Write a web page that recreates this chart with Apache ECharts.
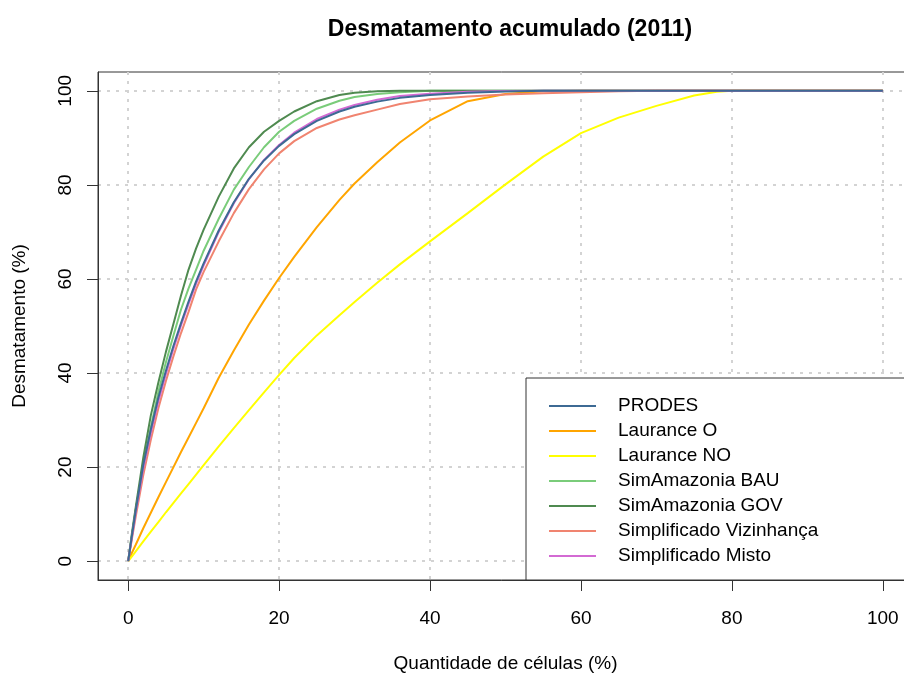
<!DOCTYPE html>
<html>
<head>
<meta charset="utf-8">
<script src="https://cdn.jsdelivr.net/npm/echarts@6/dist/echarts.min.js"></script>
<style>
html,body{margin:0;padding:0;background:#fff;}
#chart{width:904px;height:673px;}
</style>
</head>
<body>
<div id="chart"></div>
<script>
// ---- data ----
const xCells = [0, 0.5, 1, 2, 3, 4, 5, 6, 7, 8, 9, 10, 12, 14, 16, 18, 20, 22, 25, 28, 30, 33, 36, 40, 45, 50, 55, 60, 65, 70, 75, 78, 80, 90, 100];

const prodes     = [0, 5.5, 10.8, 20.5, 28, 34.8, 40.5, 45.8, 50.6, 55.2, 59.5, 63.3, 70.3, 76.3, 81.3, 85.2, 88.3, 90.8, 93.6, 95.6, 96.6, 97.7, 98.5, 99.1, 99.6, 99.85, 100, 100, 100, 100, 100, 100, 100, 100, 100];
const lauranceO  = [0, 1.8, 3.5, 7, 10.3, 13.6, 16.8, 20, 23.2, 26.3, 29.4, 32.5, 39, 44.8, 50.3, 55.4, 60.2, 64.7, 71, 76.8, 80.3, 84.8, 89, 93.7, 97.8, 99.3, 99.9, 100, 100, 100, 100, 100, 100, 100, 100];
const lauranceNO = [0, 1.0, 2.1, 4.2, 6.3, 8.3, 10.4, 12.4, 14.4, 16.4, 18.4, 20.4, 24.4, 28.3, 32.1, 35.9, 39.6, 43.2, 48, 52.3, 55.1, 59.2, 63.1, 68, 74, 80.1, 86, 91, 94.3, 96.8, 99.0, 99.8, 100, 100, 100];
const simBAU     = [0, 5.5, 11, 20.5, 28.5, 36, 42.3, 48, 53.5, 58, 62, 66, 72.8, 79, 83.8, 88, 91.3, 93.6, 96.2, 97.9, 98.7, 99.3, 99.7, 100, 100, 100, 100, 100, 100, 100, 100, 100, 100, 100, 100];
const simGOV     = [0, 6, 11.5, 22, 31, 38, 44.5, 50.5, 56.5, 62, 66.5, 70.5, 77.5, 83.5, 88, 91.3, 93.6, 95.6, 97.8, 99.1, 99.6, 99.9, 100, 100, 100, 100, 100, 100, 100, 100, 100, 100, 100, 100, 100];
const simpViz    = [0, 4.8, 9.5, 18.3, 25.8, 32.5, 38.3, 43.6, 48.5, 53, 57.8, 61.5, 68, 74, 79.1, 83.3, 86.7, 89.3, 92.1, 93.9, 94.8, 96, 97.2, 98.2, 98.8, 99.2, 99.5, 99.7, 99.9, 100, 100, 100, 100, 100, 100];
const simpMisto  = [0, 5.2, 10.4, 19.8, 27.3, 34, 39.8, 45.2, 50.1, 54.7, 59, 62.9, 70, 76.1, 81.2, 85.3, 88.5, 91.1, 94, 96, 97, 98.1, 98.9, 99.4, 99.8, 99.95, 100, 100, 100, 100, 100, 100, 100, 100, 100];

const seriesNames = ['PRODES', 'Laurance O', 'Laurance NO', 'SimAmazonia BAU', 'SimAmazonia GOV', 'Simplificado Vizinhança', 'Simplificado Misto'];
const seriesValues = [prodes, lauranceO, lauranceNO, simBAU, simGOV, simpViz, simpMisto];
const seriesColors = ['#3d6a94', '#ffa500', '#ffff00', '#7acc7a', '#4f8a50', '#f08470', '#d36ad3'];

const tickValues = [0, 20, 40, 60, 80, 100];

// ---- chart ----
const FONT = "'Liberation Sans', Arial, sans-serif";
const chart = echarts.init(document.getElementById('chart'), null, {renderer: 'canvas'});

const series = seriesNames.map((name, i) => ({
  name: name,
  type: 'line',
  data: xCells.map((x, k) => [x, seriesValues[i][k]]),
  showSymbol: false,
  symbol: 'none',
  smooth: false,
  z: i === 0 ? 4 : 2,
  lineStyle: {width: 2, color: seriesColors[i]},
  itemStyle: {color: seriesColors[i]},
  emphasis: {disabled: true},
  animation: false
}));

const option = {
  animation: false,
  color: seriesColors,
  title: {
    text: 'Desmatamento acumulado (2011)',
    left: 505,
    textAlign: 'center',
    top: 13,
    textStyle: {fontFamily: FONT, fontSize: 23, fontWeight: 'bold', color: '#000'}
  },
  grid: {
    left: 98, top: 72, width: 815, height: 508,
    show: true, borderColor: '#333', borderWidth: 1, backgroundColor: 'transparent',
    containLabel: false,
    outerBoundsMode: 'none'
  },
  xAxis: {
    type: 'value', min: -4, max: 104,
    name: 'Quantidade de células (%)',
    nameLocation: 'middle', nameGap: 74,
    nameTextStyle: {fontFamily: FONT, fontSize: 19, color: '#000'},
    axisLine: {show: true, onZero: false, lineStyle: {color: '#333', width: 1}},
    axisTick: {show: true, customValues: tickValues, length: 11, inside: false, lineStyle: {color: '#333', width: 1}},
    axisLabel: {customValues: tickValues, margin: 29, fontFamily: FONT, fontSize: 19, color: '#000'},
    splitLine: {show: true, lineStyle: {color: '#d3d3d3', width: 2, type: [3, 6]}}
  },
  yAxis: {
    type: 'value', min: -4, max: 104,
    name: 'Desmatamento (%)',
    nameLocation: 'middle', nameGap: 69, nameRotate: 90,
    nameTextStyle: {fontFamily: FONT, fontSize: 19, color: '#000'},
    axisLine: {show: true, onZero: false, lineStyle: {color: '#333', width: 1}},
    axisTick: {show: true, customValues: tickValues, length: 11, inside: false, lineStyle: {color: '#333', width: 1}},
    axisLabel: {customValues: tickValues, rotate: 90, margin: 23, fontFamily: FONT, fontSize: 19, color: '#000'},
    splitLine: {show: true, lineStyle: {color: '#d3d3d3', width: 2, type: [3, 6]}}
  },
  legend: {
    orient: 'vertical',
    left: 526, top: 378,
    padding: [18, 130, 14, 23],
    itemWidth: 47, itemHeight: 2, itemGap: 5,
    icon: 'rect',
    backgroundColor: '#fff',
    borderColor: '#333', borderWidth: 1,
    selectedMode: false,
    z: 10,
    data: seriesNames,
    textStyle: {fontFamily: FONT, fontSize: 19, color: '#000', lineHeight: 20, padding: [0, 0, 0, 17]}
  },
  series: series
};
chart.setOption(option);
</script>
</body>
</html>
